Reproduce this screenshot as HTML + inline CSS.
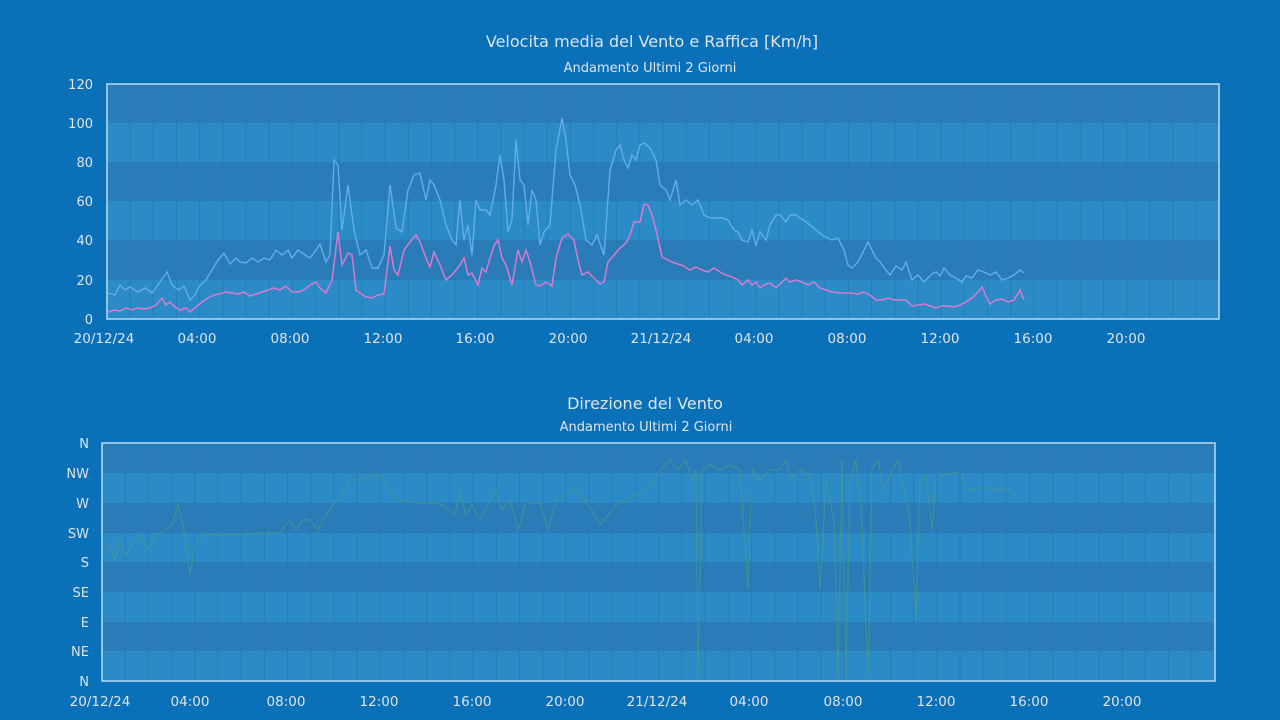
<!DOCTYPE html>
<html><head><meta charset="utf-8"><style>
html,body{margin:0;padding:0;background:#0a70b8;}
svg{display:block;}
text{font-family:"DejaVu Sans","Liberation Sans",sans-serif;fill:#dde4ea;}
</style></head><body>
<svg width="1280" height="720" viewBox="0 0 1280 720" xmlns="http://www.w3.org/2000/svg">
<rect width="1280" height="720" fill="#0a70b8"/>
<text x="652" y="47" font-size="16" text-anchor="middle">Velocita media del Vento e Raffica [Km/h]</text>
<text x="650" y="72" font-size="13" text-anchor="middle">Andamento Ultimi 2 Giorni</text>
<rect x="107" y="84" width="1112" height="39" fill="#2a7cb9"/>
<rect x="107" y="123" width="1112" height="39" fill="#2a8bc7"/>
<rect x="107" y="162" width="1112" height="39" fill="#2a7cb9"/>
<rect x="107" y="201" width="1112" height="39" fill="#2a8bc7"/>
<rect x="107" y="240" width="1112" height="40" fill="#2a7cb9"/>
<rect x="107" y="280" width="1112" height="39" fill="#2a8bc7"/>
<path id="v1" stroke="#2573ad" stroke-width="1" opacity="0.55" d=""/>
<rect x="107" y="84" width="1112" height="235" fill="none" stroke="#b8dcf5" stroke-width="1.5"/>
<g font-size="13" text-anchor="end">
<text x="93" y="89">120</text><text x="93" y="128">100</text><text x="93" y="167">80</text>
<text x="93" y="206">60</text><text x="93" y="245">40</text><text x="93" y="285">20</text><text x="93" y="324">0</text>
</g>
<g font-size="13.5" text-anchor="middle">
<text x="104" y="343">20/12/24</text><text x="197" y="343">04:00</text><text x="290" y="343">08:00</text>
<text x="383" y="343">12:00</text><text x="475" y="343">16:00</text><text x="568" y="343">20:00</text>
<text x="661" y="343">21/12/24</text><text x="754" y="343">04:00</text><text x="847" y="343">08:00</text>
<text x="940" y="343">12:00</text><text x="1033" y="343">16:00</text><text x="1126" y="343">20:00</text>
</g>
<polyline fill="none" stroke="#62ade9" stroke-width="1.4" points="108,293 115,295 120,285 125,290 130,287 138,292 145,288 152,293 160,282 167,272 172,285 178,290 184,286 190,300 195,295 200,285 206,280 212,270 218,260 224,253 230,264 236,258 240,262 246,263 252,258 258,262 264,258 270,260 276,250 282,255 288,250 292,258 298,250 305,255 310,258 316,250 320,244 326,262 330,255 334,160 338,165 342,230 348,185 354,230 360,255 366,250 372,268 378,268 384,255 390,185 396,228 402,232 408,190 414,175 420,173 426,200 430,180 434,185 440,200 446,225 452,240 456,245 460,200 464,240 468,225 472,255 476,200 480,210 486,210 490,215 496,185 500,155 504,180 508,232 512,220 516,140 520,180 524,185 528,225 532,190 536,200 540,245 544,232 550,225 556,150 562,118 566,140 570,175 575,185 580,205 586,240 592,245 597,235 604,255 610,170 616,150 620,145 624,160 628,168 632,155 636,160 640,145 644,143 650,148 656,160 660,185 666,190 670,200 676,180 680,205 686,200 692,205 698,200 704,215 710,218 716,218 722,218 728,220 734,230 738,232 742,240 748,242 752,230 756,245 760,232 766,240 770,225 776,215 780,215 786,222 790,215 796,215 800,218 806,222 810,225 816,230 822,235 828,238 832,240 838,238 844,250 848,265 852,268 858,262 864,250 868,242 872,250 876,258 880,262 886,270 890,275 896,266 902,270 906,262 912,280 918,275 924,282 928,278 932,274 936,272 940,276 944,268 950,275 956,278 962,282 966,276 972,278 978,270 984,272 990,275 996,272 1002,280 1008,278 1014,275 1020,270 1024,273"/>
<polyline fill="none" stroke="#d77ad0" stroke-width="1.5" points="108,312 114,310 120,311 126,308 132,310 138,308 144,309 150,308 156,305 162,298 166,305 170,302 174,306 180,310 186,308 190,312 196,307 202,302 208,298 214,295 220,294 226,292 232,293 238,294 244,292 250,296 256,294 262,292 268,290 274,288 280,290 286,286 292,292 298,292 304,290 310,285 316,282 320,288 326,293 332,280 338,232 342,265 348,253 352,255 356,290 360,293 366,297 372,298 378,295 384,294 390,246 394,270 398,275 404,250 410,242 416,235 420,242 426,258 430,267 434,252 440,265 446,280 452,275 456,270 460,265 464,258 468,275 472,273 478,285 482,268 486,272 490,258 494,246 498,240 502,258 506,265 512,285 518,250 522,262 526,250 530,262 536,285 540,286 546,282 552,286 556,258 562,238 568,234 574,240 578,260 582,275 588,272 594,278 600,284 604,282 608,262 614,255 620,248 626,243 630,235 634,222 640,222 644,204 648,205 652,215 656,230 662,257 668,260 672,262 678,264 684,266 690,270 696,267 702,270 708,272 714,268 720,272 726,275 732,277 738,280 742,285 748,280 752,285 756,282 760,288 764,285 770,283 776,288 782,282 786,278 790,282 796,280 802,282 808,285 814,282 820,288 826,290 832,292 840,293 846,293 852,293 858,294 864,292 870,295 876,300 882,300 888,298 894,300 900,300 906,300 912,306 918,305 924,304 930,306 936,308 942,306 948,306 954,307 960,305 966,302 972,298 978,292 982,287 986,296 990,304 996,300 1002,299 1008,302 1014,300 1020,290 1024,300"/>

<text x="645" y="409" font-size="16" text-anchor="middle">Direzione del Vento</text>
<text x="646" y="431" font-size="13" text-anchor="middle">Andamento Ultimi 2 Giorni</text>
<rect x="102" y="443" width="1113" height="30" fill="#2a7cb9"/>
<rect x="102" y="473" width="1113" height="30" fill="#2a8bc7"/>
<rect x="102" y="503" width="1113" height="30" fill="#2a7cb9"/>
<rect x="102" y="533" width="1113" height="29" fill="#2a8bc7"/>
<rect x="102" y="562" width="1113" height="30" fill="#2a7cb9"/>
<rect x="102" y="592" width="1113" height="30" fill="#2a8bc7"/>
<rect x="102" y="622" width="1113" height="29" fill="#2a7cb9"/>
<rect x="102" y="651" width="1113" height="30" fill="#2a8bc7"/>
<path id="v2" stroke="#2573ad" stroke-width="1" opacity="0.55" d=""/>
<rect x="102" y="443" width="1113" height="238" fill="none" stroke="#b8dcf5" stroke-width="1.5"/>
<g font-size="13" text-anchor="end">
<text x="89" y="448">N</text><text x="89" y="478">NW</text><text x="89" y="508">W</text><text x="89" y="538">SW</text>
<text x="89" y="567">S</text><text x="89" y="597">SE</text><text x="89" y="627">E</text><text x="89" y="656">NE</text><text x="89" y="686">N</text>
</g>
<g font-size="13.5" text-anchor="middle">
<text x="100" y="706">20/12/24</text><text x="190" y="706">04:00</text><text x="286" y="706">08:00</text>
<text x="379" y="706">12:00</text><text x="472" y="706">16:00</text><text x="565" y="706">20:00</text>
<text x="657" y="706">21/12/24</text><text x="749" y="706">04:00</text><text x="843" y="706">08:00</text>
<text x="936" y="706">12:00</text><text x="1029" y="706">16:00</text><text x="1122" y="706">20:00</text>
</g>
<polyline fill="none" stroke="#4f9c80" stroke-width="1.2" opacity="0.6" points="110,545 115,560 120,540 126,555 132,545 140,535 148,550 156,535 165,530 172,525 178,505 184,530 190,575 196,540 204,535 220,535 240,535 260,533 280,532 290,520 296,530 302,520 310,520 318,530 326,515 334,503 342,495 350,480 360,480 370,475 380,475 390,490 400,500 420,503 440,503 455,515 460,490 466,515 472,505 480,520 490,500 496,490 502,510 510,500 518,530 526,503 540,503 548,530 556,500 566,495 576,488 584,500 592,510 600,525 608,515 616,505 626,500 636,495 650,485 660,470 670,460 678,470 686,460 692,480 696,470 698,680 702,470 710,465 720,470 730,465 740,470 748,590 752,470 760,480 770,470 780,470 786,460 790,480 800,470 810,475 816,520 820,590 826,480 834,520 838,680 842,460 846,680 850,480 856,460 862,520 868,680 872,470 878,460 884,490 892,470 898,460 904,490 910,520 916,620 920,480 926,475 932,530 936,480 944,475 956,472 962,475 966,490 976,488 990,488 1000,490 1010,490 1016,495"/>
<script>
(function(){
 var d1='',d2='';
 for(var i=1;i<48;i++){var x=(107+i*23.17).toFixed(1);d1+='M'+x+' 85V318';}
 for(var i=1;i<48;i++){var x=(102+i*23.19).toFixed(1);d2+='M'+x+' 444V680';}
 document.getElementById('v1').setAttribute('d',d1);
 document.getElementById('v2').setAttribute('d',d2);
})();
</script>
</svg>
</body></html>
